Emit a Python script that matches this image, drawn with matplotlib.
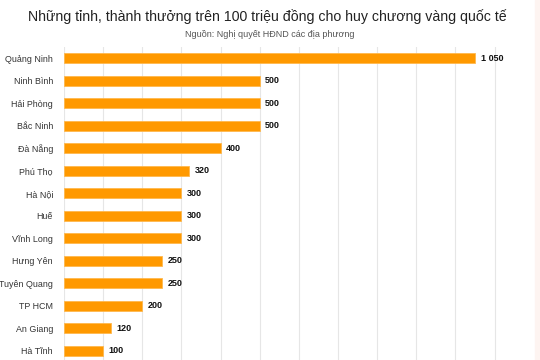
import matplotlib.pyplot as plt
from matplotlib.patches import Rectangle

plt.rcParams['font.family'] = ['Liberation Sans', 'DejaVu Sans']

provinces = ['Quảng Ninh', 'Ninh Bình', 'Hải Phòng', 'Bắc Ninh', 'Đà Nẵng',
             'Phú Thọ', 'Hà Nội', 'Huế', 'Vĩnh Long', 'Hưng Yên',
             'Tuyên Quang', 'TP HCM', 'An Giang', 'Hà Tĩnh']
rewards = [1050, 500, 500, 500, 400, 320, 300, 300, 300, 250, 250, 200, 120, 100]
value_labels = ['1 050', '500', '500', '500', '400', '320', '300', '300',
                '300', '250', '250', '200', '120', '100']

fig = plt.figure(figsize=(5.4, 3.6), dpi=100)
# pale page strip on the right edge
fig.patches.append(Rectangle((0.991, 0), 0.009, 1, transform=fig.transFigure,
                             color='#fdf4f1', zorder=0))
ax = fig.add_axes([0.1185, 0.0, 0.870, 0.869])

ypos = list(range(len(provinces)))
ax.barh(ypos, rewards, height=0.44, color='#ff9900', edgecolor='#ffb84d',
        linewidth=0.6, zorder=3)

for y, v, lab in zip(ypos, rewards, value_labels):
    ax.text(v + 14, y, lab, va='center', ha='left', fontsize=6.5,
            fontweight='bold', color='#111111')

ax.set_xlim(0, 1200)
ax.set_ylim(13.42, -0.49)
ax.set_xticks(range(0, 1200, 100))
ax.set_xticklabels([])
ax.tick_params(axis='x', length=0)
ax.tick_params(axis='y', length=0, labelsize=6.4, labelcolor='#333333', pad=8)
ax.set_yticks(ypos)
ax.set_yticklabels(provinces)
ax.grid(axis='x', color='#e6e6e6', linewidth=0.8, zorder=0)
for s in ax.spines.values():
    s.set_visible(False)

fig.text(0.495, 0.955, 'Những tỉnh, thành thưởng trên 100 triệu đồng cho huy chương vàng quốc tế',
         ha='center', va='center', fontsize=10.2, color='#222222')
fig.text(0.5, 0.905, 'Nguồn: Nghị quyết HĐND các địa phương',
         ha='center', va='center', fontsize=6.5, color='#555555')

fig.savefig('out.png', dpi=100)
